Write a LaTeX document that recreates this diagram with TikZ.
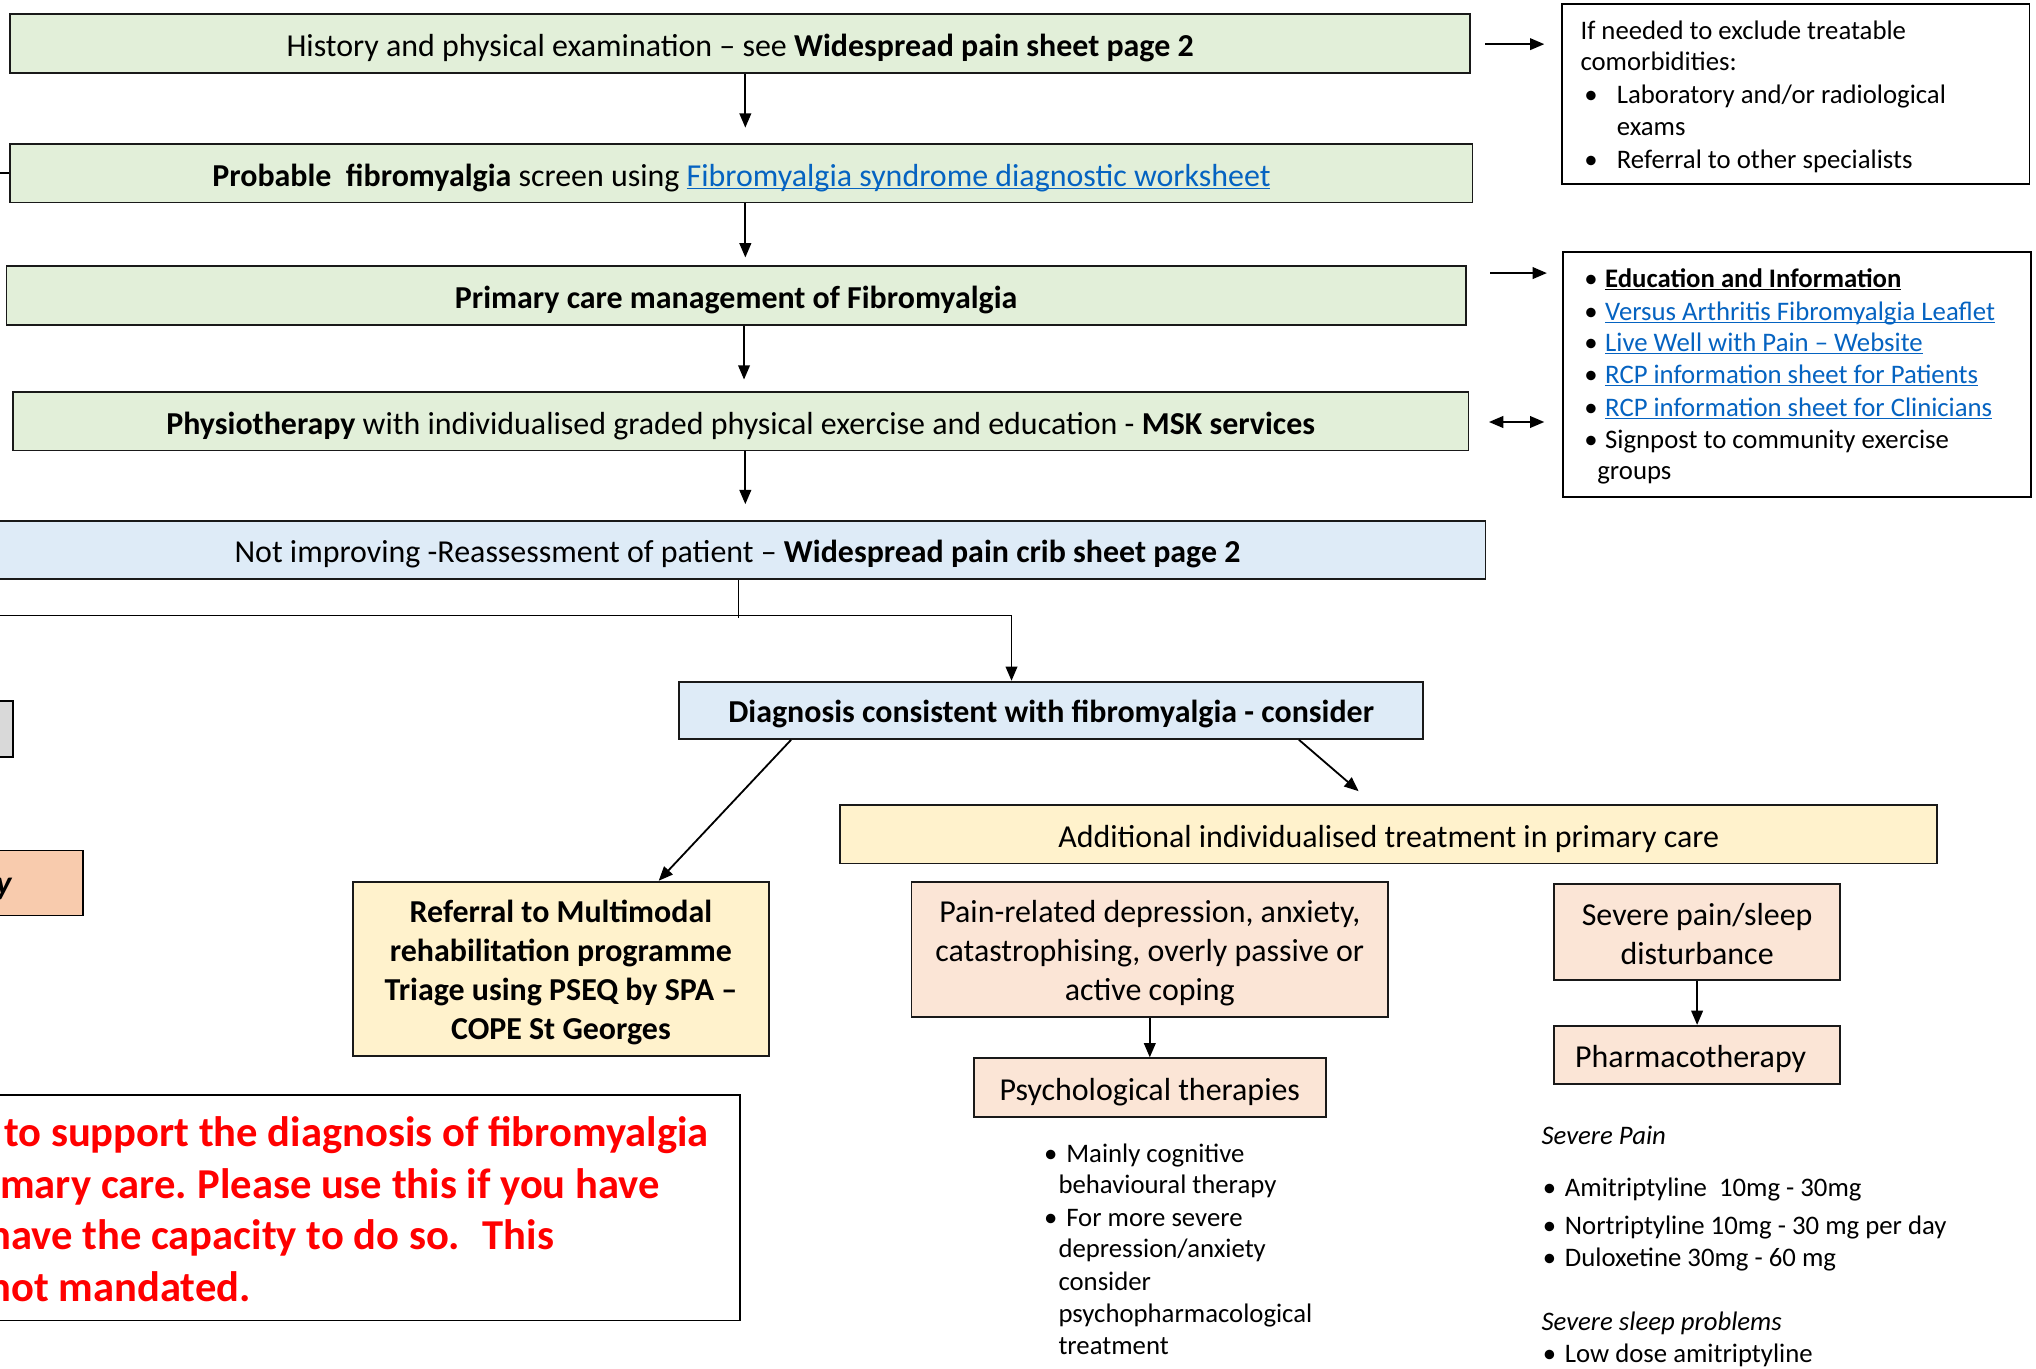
\documentclass[tikz,border=0pt]{standalone}
\usepackage{fontspec}
\setmainfont{Carlito}
\usetikzlibrary{arrows.meta,calc}
\definecolor{gfill}{HTML}{E2EFD9}
\definecolor{bfill}{HTML}{DEEBF7}
\definecolor{yfill}{HTML}{FFF2CC}
\definecolor{pfill}{HTML}{FBE5D6}
\definecolor{grfill}{HTML}{D9D9D9}
\definecolor{opfill}{HTML}{F8CBAD}
\definecolor{linkblue}{HTML}{0563C1}
\definecolor{redtxt}{HTML}{FF0000}
\newcommand\ulx[1]{\underline{\raisebox{0pt}[\height][0pt]{#1}}}
\newcommand\lnk[1]{\textcolor{linkblue}{\ulx{#1}}}
\newcommand\tp{\rule{0pt}{27.6pt}}
\newcommand\bt{\rule[-8pt]{0pt}{0pt}}
\begin{document}
\begin{tikzpicture}[x=1pt,y=-1pt,
  box/.style={draw=black!90, line width=1.4pt, inner sep=0pt, align=center},
  one/.style={text height=27.6pt, text depth=8pt},
  mainbox/.style={box, one, font=\fontsize{24.6}{30}\selectfont},
  gbox/.style={mainbox, fill=gfill, minimum height=45pt},
  bbox/.style={mainbox, fill=bfill, minimum height=45pt},
  ybox/.style={box, fill=yfill},
  pbox/.style={box, fill=pfill, font=\fontsize{24.6}{30}\selectfont},
  wbox/.style={draw=black, line width=1.4pt, fill=white, inner sep=0pt},
  t20/.style={inner sep=0pt, anchor=base west, font=\fontsize{20.6}{24}\selectfont},
  t20i/.style={t20, font=\fontsize{20.6}{24}\selectfont\itshape},
  red32/.style={inner sep=0pt, anchor=base west, text=redtxt, font=\fontsize{32.8}{39}\selectfont\bfseries},
  arr/.style={line width=1.4pt, -{Triangle[length=11pt,width=9pt]}},
  darr/.style={line width=1.4pt, {Triangle[length=11pt,width=9pt]}-{Triangle[length=11pt,width=9pt]}},
  ln/.style={line width=1.4pt},
  thinln/.style={line width=0.8pt}
]
\useasboundingbox (0,0) rectangle (1568,1054);
\clip (0,0) rectangle (1568,1054);
\fill[white] (0,0) rectangle (1568,1054);

% main chain
\node[gbox, minimum width=1124pt] (b1) at (570,33.5)
  {History and physical examination -- see \textbf{Widespread pain sheet page 2}};
\node[gbox, minimum width=1126pt] (b2) at (571,133.5)
  {\textbf{Probable~ fibromyalgia} screen using \lnk{Fibromyalgia syndrome diagnostic worksheet}};
\node[gbox, minimum width=1124pt] (b3) at (567,227.5)
  {\textbf{Primary care management of Fibromyalgia}};
\node[gbox, minimum width=1121pt] (b4) at (570.5,324.5)
  {\textbf{Physiotherapy} with individualised graded physical exercise and education - \textbf{MSK services}};
\node[bbox, minimum width=1152pt] (b5) at (568,423.5)
  {Not improving -Reassessment of patient -- \textbf{Widespread pain crib sheet page 2}};

\node[bbox, minimum width=573pt, minimum height=44pt] (diag) at (809.5,547)
  {\textbf{Diagnosis consistent with fibromyalgia - consider}};
\node[ybox, one, font=\fontsize{24.6}{30}\selectfont, minimum width=845pt, minimum height=45pt] (add) at (1069.5,642.5)
  {Additional individualised treatment in primary care};
\node[ybox, font=\fontsize{24.6}{30}\selectfont\bfseries, minimum width=320pt, minimum height=134pt] (ref) at (432,746)
  {\tp Referral to Multimodal\\rehabilitation programme\\Triage using PSEQ by SPA --\\COPE St Georges\bt};
\node[pbox, minimum width=367pt, minimum height=104pt] (pain) at (885.5,731)
  {\tp Pain-related depression, anxiety,\\catastrophising, overly passive or\\active coping\bt};
\node[pbox, one, minimum width=271pt, minimum height=45pt] (psych) at (885.5,837.5)
  {Psychological therapies};
\node[pbox, minimum width=220pt, minimum height=74pt] (sev) at (1307,718)
  {\tp Severe pain/sleep\\disturbance\bt};
\node[pbox, one, minimum width=220pt, minimum height=45pt] (pharm) at (1307,812.5)
  {Pharmacotherapy\hspace*{10pt}};

% right boxes
\node[wbox, minimum width=360pt, minimum height=139pt] (rb1) at (1383,72.5) {};
\node[wbox, minimum width=360pt, minimum height=189pt] (edu) at (1384,288.5) {};

% left partial boxes
\node[draw=black, line width=1.4pt, fill=grfill, minimum width=20pt, minimum height=43pt, inner sep=0pt] (lgrey) at (0,561.5) {};
\node[draw=black, line width=1.4pt, fill=opfill, minimum width=74pt, minimum height=50pt, inner sep=0pt] (lpeach) at (27,680) {};
\node[inner sep=0pt, anchor=base east, font=\fontsize{26}{30}\selectfont\bfseries\itshape] (ly) at (9,689) {y};
\node[draw=black, line width=1.4pt, fill=white, minimum width=580pt, minimum height=174pt, inner sep=0pt] (redbox) at (280,930) {};

% red text
\node[red32] (rt1) at (3,883) {to support the diagnosis of fibromyalgia};
\node[red32] (rt2) at (0,923) {mary care.\hspace{8pt}Please use this if you have};
\node[red32] (rt3) at (-9,962) {have the capacity to do so.~ This};
\node[red32] (rt4) at (-9,1002) {not mandated.};

% right box 1 text
\node[t20] (r1a) at (1217,30.5) {If needed to exclude treatable};
\node[t20] (r1b) at (1217,54.5) {comorbidities:};
\node[t20] (r1c) at (1220,79.5) {\textbullet};
\node[t20] (r1d) at (1245,79.5) {Laboratory and/or radiological};
\node[t20] (r1e) at (1245,104.5) {exams};
\node[t20] (r1f) at (1220,129.5) {\textbullet};
\node[t20] (r1g) at (1245,129.5) {Referral to other specialists};

% education box text
\node[t20] (e1b) at (1220,221.5) {\textbullet};
\node[t20] (e1) at (1236,221.5) {\ulx{\textbf{Education and Information}}};
\node[t20] (e2b) at (1220,246.5) {\textbullet};
\node[t20] (e2) at (1236,246.5) {\lnk{Versus Arthritis Fibromyalgia Leaflet}};
\node[t20] (e3b) at (1220,270.5) {\textbullet};
\node[t20] (e3) at (1236,270.5) {\lnk{Live Well with Pain -- Website}};
\node[t20] (e4b) at (1220,295.5) {\textbullet};
\node[t20] (e4) at (1236,295.5) {\lnk{RCP information sheet for Patients}};
\node[t20] (e5b) at (1220,320.5) {\textbullet};
\node[t20] (e5) at (1236,320.5) {\lnk{RCP information sheet for Clinicians}};
\node[t20] (e6b) at (1220,345.5) {\textbullet};
\node[t20] (e6) at (1236,345.5) {Signpost to community exercise};
\node[t20] (e7) at (1230,369.5) {groups};

% psychological list
\node[t20] (p1b) at (804,895.5) {\textbullet};
\node[t20] (p1) at (821,895.5) {Mainly cognitive};
\node[t20] (p2) at (815,919.5) {behavioural therapy};
\node[t20] (p3b) at (804,944.5) {\textbullet};
\node[t20] (p3) at (821,944.5) {For more severe};
\node[t20] (p4) at (815,968.5) {depression/anxiety};
\node[t20] (p5) at (815,993.5) {consider};
\node[t20] (p6) at (815,1018.5) {psychopharmacological};
\node[t20] (p7) at (815,1043.5) {treatment};

% pharmacotherapy list
\node[t20i] (s1) at (1187,881.5) {Severe Pain};
\node[t20] (s2b) at (1188,921.5) {\textbullet};
\node[t20] (s2) at (1205,921.5) {Amitriptyline~ 10mg - 30mg};
\node[t20] (s3b) at (1188,950.5) {\textbullet};
\node[t20] (s3) at (1205,950.5) {Nortriptyline 10mg - 30 mg per day};
\node[t20] (s4b) at (1188,975.5) {\textbullet};
\node[t20] (s4) at (1205,975.5) {Duloxetine 30mg - 60 mg};
\node[t20i] (s5) at (1187,1024.5) {Severe sleep problems};
\node[t20] (s6b) at (1188,1049.5) {\textbullet};
\node[t20] (s6) at (1205,1049.5) {Low dose amitriptyline};

% connectors
\draw[arr, shorten >=12pt] ($(b1.south)+(4,0)$) -- ($(b2.north)+(3,0)$);
\draw[arr, shorten >=6pt] ($(b2.south)+(3,0)$) -- ($(b3.north)+(7,0)$);
\draw[arr, shorten >=9pt] ($(b3.south)+(6,0)$) -- ($(b4.north)+(2.5,0)$);
\draw[arr, shorten >=12pt] ($(b4.south)+(3.5,0)$) -- ($(b5.north)+(6,0)$);

\coordinate (inL) at (-10,133.5);
\draw[ln] (inL) -- (b2.west);

\coordinate (j1) at (569,476);
\coordinate (jL) at (-10,474);
\coordinate (j2) at (779,474);
\draw[thinln] ($(b5.south)+(1,0)$) -- (j1);
\draw[ln] (jL) -- (j2);
\draw[arr] (j2) -- (j2 |- diag.north);

\draw[arr] ($(diag.south west)+(87,0)$) -- ($(ref.north west)+(236,0)$);
\draw[arr] ($(diag.south west)+(478,0)$) -- ($(add.north west)+(400,-10)$);
\draw[arr] (pain.south) -- (psych.north);
\draw[arr] (sev.south) -- (pharm.north);

\draw[arr] ($(b1.east)+(11,0.5)$) -- ($(b1.east -| rb1.west)+(-13,0.5)$);
\draw[arr] ($(b3.north east)+(18,6)$) -- ($(b3.north east -| edu.west)+(-12,6)$);
\draw[darr] ($(b4.east)+(15,0.5)$) -- ($(b4.east -| edu.west)+(-14,0.5)$);
\end{tikzpicture}
\end{document}
